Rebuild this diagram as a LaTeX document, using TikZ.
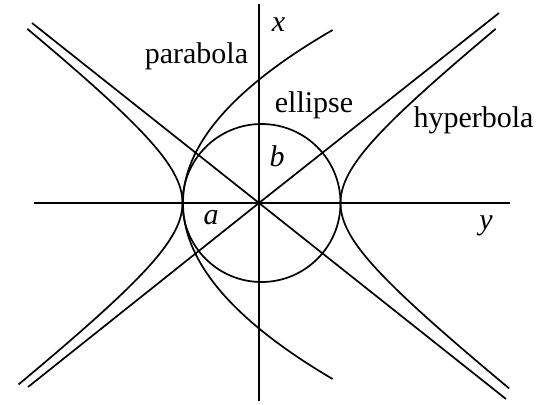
\documentclass[tikz,border=0pt]{standalone}
\usepackage{fontspec}
\setmainfont{Liberation Serif}
\begin{document}
\begin{tikzpicture}[x=1pt,y=-1pt,line width=1.7pt,
  axisline/.style={line width=1.8pt},
  conic/.style={line width=1.7pt},
  lbl/.style={inner sep=0pt,font=\fontsize{30}{35}\selectfont},
  ilbl/.style={inner sep=0pt,font=\fontsize{30}{35}\selectfont\itshape}]
\useasboundingbox (0,0) rectangle (545,404);
% axes
\coordinate (O) at (259,203);
\coordinate (axL) at (34,203);
\coordinate (axR) at (510,203);
\coordinate (axT) at (259,4);
\coordinate (axB) at (259,401);
\draw[axisline,line width=2.3pt] (axL) -- (axR);
\draw[axisline] (axT) -- (axB);
% asymptotes
\coordinate (aUL) at (32,23);
\coordinate (aLR) at (506,399);
\coordinate (aUR) at (499,13);
\coordinate (aLL) at (28,387);
\draw[conic] (aUL) -- (O) -- (aLR);
\draw[conic] (aLL) -- (O) -- (aUR);
% ellipse (circle)
\draw[conic] (261.5,203) circle[radius=79];
% hyperbola
\draw[conic] plot[domain=-1.75:1.81,samples=90,variable=\t] ({261.5+79*cosh(\t)},{203+62.4*sinh(\t)});
\draw[conic] plot[domain=-1.75:1.79,samples=90,variable=\t] ({261.5-79*cosh(\t)},{203+62.4*sinh(\t)});
% parabola
\draw[conic] plot[domain=-173:176,samples=140,variable=\s] ({183+(\s<0 ? 50 : 48.3)*(\s/100)*(\s/100)},{203+\s});
% labels
\node[ilbl] (lx) at (278.5,25) {x};
\node[ilbl] (lb) at (277,156) {b};
\node[ilbl] (la) at (211,218) {a};
\node[ilbl] (ly) at (486,226) {y};
\node[lbl] (lpar) at (196.5,56) {parabola};
\node[lbl] (lell) at (314,105) {ellipse};
\node[lbl] (lhyp) at (473.5,120.5) {hyperbola};
\end{tikzpicture}
\end{document}
